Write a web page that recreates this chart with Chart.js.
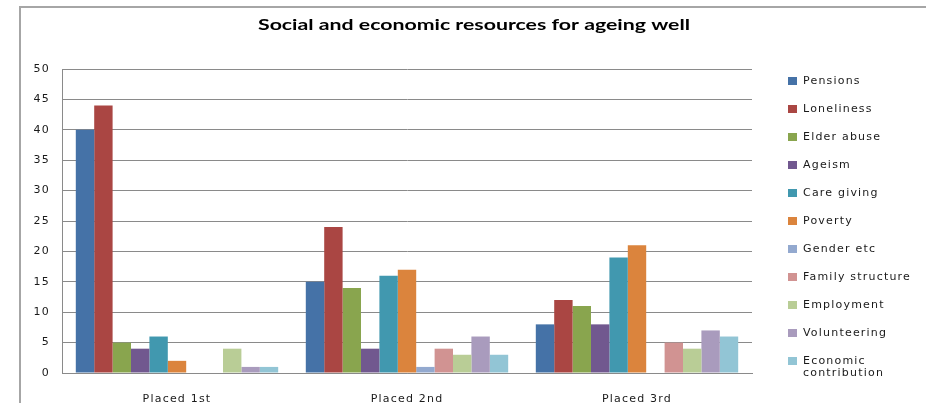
<!DOCTYPE html>
<html>
<head>
<meta charset="utf-8">
<script src="https://cdn.jsdelivr.net/npm/chart.js@4"></script>
<style>
  html, body { margin: 0; padding: 0; background: #fff; overflow: hidden; }
  #myChart { display: block; }
</style>
</head>
<body>
<canvas id="myChart" width="926" height="403"></canvas>
<script>
"use strict";
const title = "Social and economic resources for ageing well";
const categories = ["Placed 1st", "Placed 2nd", "Placed 3rd"];
const seriesNames = ["Pensions", "Loneliness", "Elder abuse", "Ageism", "Care giving", "Poverty",
  "Gender etc", "Family structure", "Employment", "Volunteering", "Economic contribution"];
const pensions = [40, 15, 8];
const loneliness = [44, 24, 12];
const elderAbuse = [5, 14, 11];
const ageism = [4, 4, 8];
const careGiving = [6, 16, 19];
const poverty = [2, 17, 21];
const gender = [0, 1, 0];
const familyStructure = [0, 4, 5];
const employment = [4, 3, 4];
const volunteering = [1, 6, 7];
const economicContribution = [1, 3, 6];
const yTicks = [0, 5, 10, 15, 20, 25, 30, 35, 40, 45, 50];

const seriesValues = [pensions, loneliness, elderAbuse, ageism, careGiving, poverty,
  gender, familyStructure, employment, volunteering, economicContribution];
const colours = ["#4572a7", "#aa4643", "#89a54e", "#71588f", "#4198af", "#db843d",
  "#93a9cf", "#d19392", "#b9cd96", "#a99bbd", "#92c5d5"];

const labelFont = "DejaVu Sans, Verdana, sans-serif";
const spacing = "1.2px";

// the original picture is stretched sideways, so the text gets extra spacing
const spacingPlugin = {
  id: "spacing",
  beforeUpdate(chart) { chart.ctx.letterSpacing = spacing; },
  beforeDraw(chart) {
    const ctx = chart.ctx;
    ctx.letterSpacing = spacing;
    // frame of the chart object, only its top and left edges are in the picture
    ctx.save();
    ctx.strokeStyle = "#a6a6a6";
    ctx.lineWidth = 2;
    ctx.beginPath();
    ctx.moveTo(20, 403);
    ctx.lineTo(20, 7);
    ctx.lineTo(926, 7);
    ctx.stroke();
    ctx.restore();
  },
};

const sidePlugin = {
  id: "side",
  afterDraw(chart) {
    const ctx = chart.ctx;
    ctx.save();
    ctx.letterSpacing = "0px";
    ctx.fillStyle = "#000";
    ctx.font = "bold 15px Lato, 'Open Sans', sans-serif";
    ctx.textAlign = "center";
    ctx.textBaseline = "middle";
    const w = ctx.measureText(title).width;
    ctx.translate(474, 25);
    ctx.scale(432 / w, 1);
    ctx.fillText(title, 0, 0);
    ctx.restore();

    ctx.save();
    ctx.letterSpacing = spacing;
    ctx.font = "11px " + labelFont;
    ctx.textAlign = "left";
    ctx.textBaseline = "middle";
    chart.data.datasets.forEach((ds, i) => {
      const y = 81 + i * 28;
      ctx.fillStyle = ds.backgroundColor;
      ctx.fillRect(788, y - 4, 9, 8);
      ctx.fillStyle = "#1a1a1a";
      const words = ds.label === "Economic contribution" ? ["Economic", "contribution"] : [ds.label];
      words.forEach((w, j) => ctx.fillText(w, 803, y + j * 12));
    });
    ctx.restore();
  },
};

const ctx = document.getElementById("myChart").getContext("2d");
new Chart(ctx, {
  type: "bar",
  data: {
    labels: categories,
    datasets: seriesNames.map((name, i) => ({
      label: name,
      data: seriesValues[i],
      backgroundColor: colours[i],
      borderWidth: 0,
      barPercentage: 1,
      categoryPercentage: 0.88,
    })),
  },
  options: {
    responsive: false,
    animation: false,
    layout: { padding: { left: 0, top: 69, right: 174, bottom: 0 } },
    plugins: { legend: { display: false }, title: { display: false }, tooltip: { enabled: false } },
    scales: {
      x: {
        grid: { display: false },
        border: { display: true, color: "#8a8a8a", width: 1 },
        ticks: { color: "#1a1a1a", font: { family: labelFont, size: 11 }, padding: 12, maxRotation: 0 },
        afterFit: (scale) => { scale.height = 30; },
      },
      y: {
        min: 0,
        max: 50,
        afterBuildTicks: (scale) => { scale.ticks = yTicks.map((v) => ({ value: v })); },
        grid: { color: "#8a8a8a", drawTicks: false },
        border: { display: true, color: "#8a8a8a", width: 1 },
        ticks: { color: "#1a1a1a", font: { family: labelFont, size: 11 }, padding: 12 },
        afterFit: (scale) => { scale.width = 62; },
      },
    },
  },
  plugins: [spacingPlugin, sidePlugin],
});
</script>
</body>
</html>
